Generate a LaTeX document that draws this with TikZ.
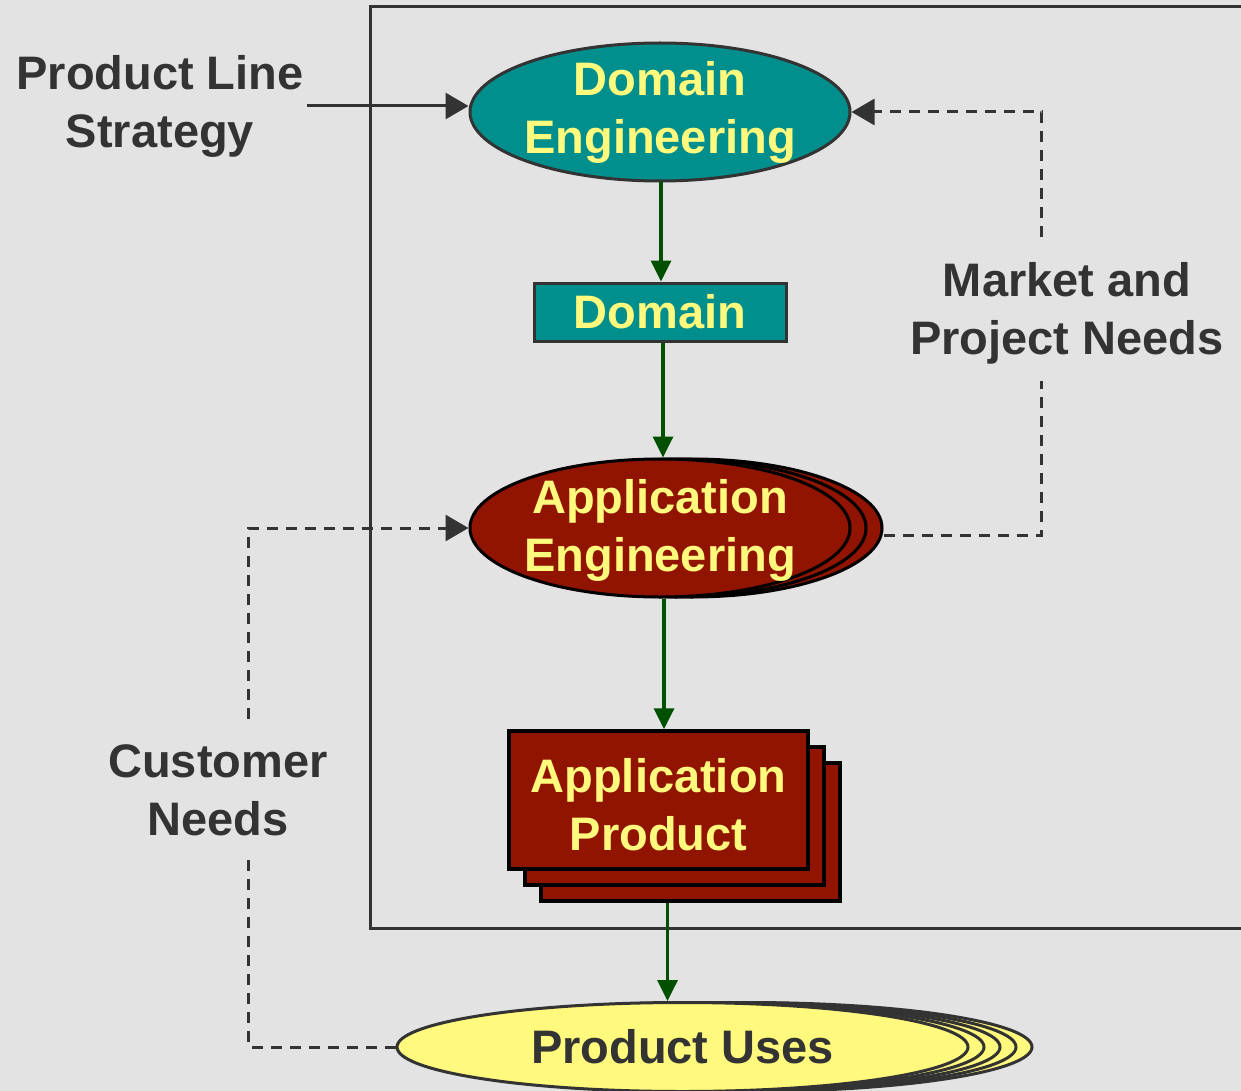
\documentclass[tikz,border=0pt]{standalone}
\usepackage{fontspec}
\setmainfont{Liberation Sans}
\usetikzlibrary{shapes.geometric, arrows.meta, positioning, calc}
\definecolor{plteal}{RGB}{0,143,140}
\definecolor{plred}{RGB}{145,20,0}
\definecolor{plyellow}{RGB}{255,250,125}
\definecolor{plgray}{RGB}{227,227,227}
\definecolor{pldark}{RGB}{51,51,51}
\definecolor{plgreen}{RGB}{0,80,0}
\tikzset{every node/.append style={align=center}}
\tikzset{
  big/.style={font=\fontsize{47}{58}\selectfont\bfseries},
  intxt/.style={big, text=plyellow, inner sep=0pt},
  domell/.style={ellipse, draw=pldark, fill=plteal, line width=3pt,
    minimum width=380pt, minimum height=138pt, inner sep=0pt},
  domrect/.style={rectangle, draw=pldark, fill=plteal, line width=3pt,
    minimum width=252pt, minimum height=58pt, inner sep=0pt, intxt},
  appell/.style={ellipse, draw=black, fill=plred, line width=3pt,
    minimum width=380pt, minimum height=138pt, inner sep=0pt},
  apprect/.style={rectangle, draw=black, fill=plred, line width=3.5pt,
    minimum width=299pt, minimum height=138pt, inner sep=0pt},
  useell/.style={ellipse, draw=pldark, fill=plyellow, line width=3pt,
    minimum width=571pt, minimum height=89pt, inner sep=0pt, big, text=pldark},
  lbl/.style={big, text=pldark, fill=plgray, inner xsep=4pt, inner ysep=17pt},
  flow/.style={-{Triangle[length=21pt,width=20pt]}, line width=3.5pt, plgreen},
  feed/.style={-{Triangle[length=23pt,width=26pt]}, line width=3pt, pldark},
  need/.style={feed, dash pattern=on 11pt off 8pt}
}

\begin{document}
\begin{tikzpicture}[x=1pt, y=-1pt]
  \fill[plgray] (0,0) rectangle (1241,1091);
  \useasboundingbox (0,0) rectangle (1241,1091);
  \draw[pldark, line width=3pt] (370,7) rectangle (1270,928);

  % process chain
  \node[domell, label={[intxt]center:Domain\\Engineering}] (domeng) at (660,112) {};
  \node[domrect] (domain) at (660,312) {Domain};
  \foreach \i/\dx in {3/32,2/16}
    \node[appell] (appeng\i) at (660+\dx,528) {};
  \node[appell, label={[intxt, yshift=-2pt]center:Application\\Engineering}] (appeng) at (660,528) {};
  \foreach \i/\d in {3/32,2/16}
    \node[apprect] (appprod\i) at (658.5+\d,800+\d) {};
  \node[apprect, label={[intxt, yshift=-5pt]center:Application\\Product}] (appprod) at (658.5,800) {};
  \foreach \i/\dx in {5/64,4/48,3/32,2/16}
    \node[useell] (uses\i) at (682.5+\dx,1047) {};
  \node[useell] (uses) at (682.5,1047) {Product Uses};

  \draw[flow] ([xshift=1pt]domeng.south) -- ([xshift=1pt]domain.north);
  \draw[flow] ([xshift=3pt]domain.south) -- ([xshift=3pt]appeng.north);
  \draw[flow] ([xshift=4pt]appeng.south) -- ([xshift=4pt]appeng.south |- appprod.north);
  \draw[flow] ([xshift=-23pt]appprod3.south) -- ([xshift=-23pt]appprod3.south |- uses.north);

  % inputs and feedback
  \node[big, text=pldark] (strategy) at (160,106) {Product Line\\Strategy};
  \draw[feed] (strategy.east) -- (strategy.east -| domeng.west);
  \draw[need] ([yshift=-7pt]appeng3.east) -- ++(158,0) |- (domeng.east);
  \draw[need] (uses.west) -- ++(-147,0) |- (appeng.west);
  \node[lbl] (market) at (1067,313) {Market and\\Project Needs};
  \node[lbl] (customer) at (218,790) {Customer\\Needs};
\end{tikzpicture}
\end{document}
